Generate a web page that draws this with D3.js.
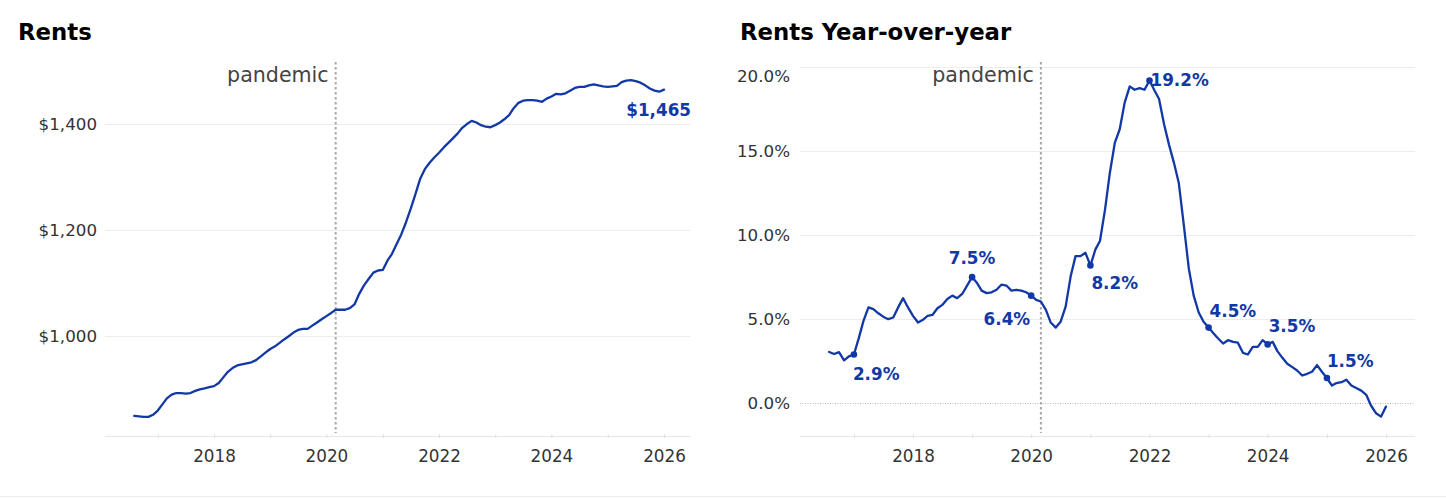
<!DOCTYPE html>
<html><head><meta charset="utf-8">
<script src="https://cdn.jsdelivr.net/npm/d3@7"></script>
<style>
body{margin:0;background:#fff;}
svg{display:block;font-family:"DejaVu Sans",Inter,sans-serif;}
</style>
</head><body>
<svg id="c" width="1446" height="499"></svg>
<script>
// ---------- DATA ----------
const startMonth = "2016-08"; // first monthly observation, one value per month
const rentValues = [
  850, 849, 848, 848, 852,
  860, 872, 883, 890, 893, 893, 892, 893, 897, 900, 902, 904,
  906, 912, 922, 933, 940, 945, 947, 949, 951, 955, 962, 969,
  976, 981, 987, 994, 1000, 1007, 1012, 1014, 1014, 1020, 1026, 1032,
  1038, 1044, 1050, 1050, 1050, 1053, 1060, 1080, 1096, 1108, 1120, 1124,
  1125, 1143, 1155, 1174, 1192, 1215, 1240, 1268, 1297, 1315, 1327, 1337,
  1346, 1356, 1364, 1373, 1382, 1393, 1400, 1406, 1403, 1398, 1395, 1394,
  1398, 1403, 1409, 1417, 1430, 1440, 1444, 1445, 1445, 1444, 1442, 1448,
  1452, 1457, 1456, 1458, 1463, 1468, 1470, 1470, 1473, 1475, 1473, 1471,
  1470, 1471, 1472, 1479, 1482, 1483, 1481, 1478, 1473, 1467, 1463, 1461,
  1465
];
const yoyValues = [
  3.05, 2.93, 3.04, 2.55, 2.79,
  2.9, 3.9, 4.9, 5.7, 5.6, 5.35, 5.15, 5.0, 5.1, 5.7, 6.25, 5.7,
  5.2, 4.8, 4.95, 5.2, 5.25, 5.65, 5.85, 6.2, 6.4, 6.25, 6.5, 7.0,
  7.5, 7.15, 6.7, 6.55, 6.6, 6.75, 7.05, 7.0, 6.7, 6.75, 6.7, 6.6,
  6.4, 6.15, 6.05, 5.55, 4.8, 4.5, 4.85, 5.75, 7.55, 8.75, 8.75, 8.95,
  8.2, 9.15, 9.65, 11.5, 13.7, 15.5, 16.3, 17.9, 18.85, 18.65, 18.75, 18.65,
  19.2, 18.6, 18.1, 16.6, 15.4, 14.3, 13.1, 10.6, 8.0, 6.4, 5.4, 4.85,
  4.5, 4.15, 3.85, 3.55, 3.75, 3.65, 3.6, 3.0, 2.9, 3.35, 3.35, 3.75,
  3.5, 3.65, 3.1, 2.7, 2.35, 2.15, 1.95, 1.65, 1.75, 1.87, 2.27, 1.87,
  1.5, 1.05, 1.2, 1.25, 1.4, 1.05, 0.9, 0.75, 0.5, -0.15, -0.6, -0.8,
  -0.2
];
const yearTicks = [2017, 2018, 2019, 2020, 2021, 2022, 2023, 2024, 2025, 2026];
const rentTicks = [1000, 1200, 1400];
const yoyTicks = [0, 5, 10, 15, 20];
const pandemicMonth = "2020-03";
const pandemicLabel = "pandemic";
const titles = ["Rents", "Rents Year-over-year"];
const annoMonths = ["2017-01","2019-01","2020-01","2021-01","2022-01","2023-01","2024-01","2025-01"];
const annoLabels = ["2.9%","7.5%","6.4%","8.2%","19.2%","4.5%","3.5%","1.5%"];
const lastRentLabel = "$1,465";

// ---------- HELPERS ----------
const parseM = d3.timeParse("%Y-%m");
const start = parseM(startMonth);
const dates = rentValues.map((_, i) => d3.timeMonth.offset(start, i));
const rentData = dates.map((d, i) => ({date: d, value: rentValues[i]}));
const yoyData = dates.map((d, i) => ({date: d, value: yoyValues[i]}));

const BLUE = "#1238a6";
const FONT = "'DejaVu Sans',Inter,sans-serif";
const svg = d3.select("#c");

// bottom page rule
svg.append("line").attr("x1",0).attr("x2",1446).attr("y1",496.5).attr("y2",496.5)
  .attr("stroke","#ececec").attr("stroke-width",1);

function panel(cfg) {
  const g = svg.append("g");
  const x = d3.scaleTime().domain([new Date(2018,0,1), new Date(2026,0,1)]).range(cfg.xr);
  const y = d3.scaleLinear().domain(cfg.yd).range([436, 62]);

  // title
  g.append("text").attr("x", cfg.titleX).attr("y", 40).text(cfg.title)
    .attr("font-size", 22.8).attr("font-weight", 700).attr("fill", "#000");

  // gridlines
  g.selectAll(".grid").data(cfg.yTicks.filter(v => !(cfg.zeroDotted && v === 0))).join("line")
    .attr("x1", cfg.plot[0]).attr("x2", cfg.plot[1])
    .attr("y1", d => Math.round(y(d)) + 0.5).attr("y2", d => Math.round(y(d)) + 0.5)
    .attr("stroke", "#ededed").attr("stroke-width", 1.2);
  if (cfg.zeroDotted) {
    g.append("line").attr("x1", cfg.plot[0]).attr("x2", cfg.plot[1])
      .attr("y1", Math.round(y(0)) + 0.5).attr("y2", Math.round(y(0)) + 0.5)
      .attr("stroke", "#b8b8b8").attr("stroke-width", 1).attr("stroke-dasharray", "1,1.5");
  }
  // y labels
  g.selectAll(".yl").data(cfg.yTicks).join("text")
    .attr("x", cfg.yLabelX).attr("y", (d, i) => y(d) + (d === cfg.shiftTop ? 9 : 0))
    .attr("text-anchor", "end").attr("dominant-baseline", "central")
    .attr("font-size", 16.7).attr("fill", "#333").text(cfg.yFmt);

  // x axis
  g.append("line").attr("x1", cfg.plot[0]).attr("x2", cfg.plot[1]).attr("y1", 436.5).attr("y2", 436.5)
    .attr("stroke", "#e6e6e6").attr("stroke-width", 1.2);
  const ax = d3.axisBottom(x).tickValues(yearTicks.map(yr => new Date(yr,0,1)))
    .tickSize(4).tickPadding(12)
    .tickFormat(d => d.getFullYear() % 2 === 0 ? d.getFullYear() : "");
  const axG = g.append("g").attr("transform", "translate(0,434)").call(ax);
  axG.select(".domain").remove();
  axG.selectAll(".tick line").attr("stroke", "#e2e2e2");
  axG.selectAll(".tick text").attr("font-size", 16.8).attr("fill", "#333")
    .attr("font-family", FONT);

  // pandemic
  const px = x(parseM(pandemicMonth));
  g.append("line").attr("x1", px).attr("x2", px).attr("y1", 62).attr("y2", 433)
    .attr("stroke", "#a8a8a8").attr("stroke-width", 2).attr("stroke-dasharray", "2.5,2.5");
  g.append("text").attr("x", px - 7).attr("y", 82).attr("text-anchor", "end")
    .attr("font-size", 20.6).attr("fill", "#444").text(pandemicLabel);

  // line
  const line = d3.line().x(d => x(d.date)).y(d => y(d.value)).curve(d3.curveLinear);
  g.append("path").datum(cfg.data).attr("d", line)
    .attr("fill", "none").attr("stroke", BLUE).attr("stroke-width", 2.3)
    .attr("stroke-linejoin", "round").attr("stroke-linecap", "round");
  return {g, x, y};
}

// ---------- LEFT ----------
const L = panel({
  title: titles[0], titleX: 18, xr: [214, 664], plot: [105, 690],
  yd: [812, 1517], yTicks: rentTicks, yLabelX: 97,
  yFmt: d => "$" + d3.format(",")(d), data: rentData
});
const last = rentData[rentData.length - 1];
L.g.append("text").attr("x", L.x(last.date) + 27).attr("y", L.y(last.value) + 20)
  .attr("text-anchor", "end").attr("dominant-baseline", "central")
  .attr("font-size", 16.8).attr("font-weight", 700).attr("fill", BLUE).text(lastRentLabel);

// ---------- RIGHT ----------
const R = panel({
  title: titles[1], titleX: 740, xr: [913, 1386], plot: [800, 1415],
  yd: [-1.95, 20.3], yTicks: yoyTicks, yLabelX: 790, shiftTop: 20, zeroDotted: true,
  yFmt: d => d3.format(".1f")(d) + "%", data: yoyData
});
const placement = [
  {a:"start", dx:-1, dy:20}, {a:"middle", dx:0, dy:-19}, {a:"end", dx:-1, dy:23},
  {a:"start", dx:1, dy:18}, {a:"start", dx:1, dy:0}, {a:"start", dx:1, dy:-17},
  {a:"start", dx:1, dy:-18}, {a:"start", dx:0, dy:-17}
];
const annos = annoMonths.map((m, i) => {
  const d = parseM(m);
  const pt = yoyData.find(p => +p.date === +d);
  return {date: d, value: pt.value, label: annoLabels[i], p: placement[i]};
});
R.g.selectAll(".dot").data(annos).join("circle")
  .attr("cx", d => R.x(d.date)).attr("cy", d => R.y(d.value)).attr("r", 3.3).attr("fill", BLUE);
R.g.selectAll(".al").data(annos).join("text")
  .attr("x", d => R.x(d.date) + d.p.dx).attr("y", d => R.y(d.value) + d.p.dy)
  .attr("text-anchor", d => d.p.a).attr("dominant-baseline", "central")
  .attr("font-size", 16.8).attr("font-weight", 700).attr("fill", BLUE).text(d => d.label);
</script>
</body></html>
